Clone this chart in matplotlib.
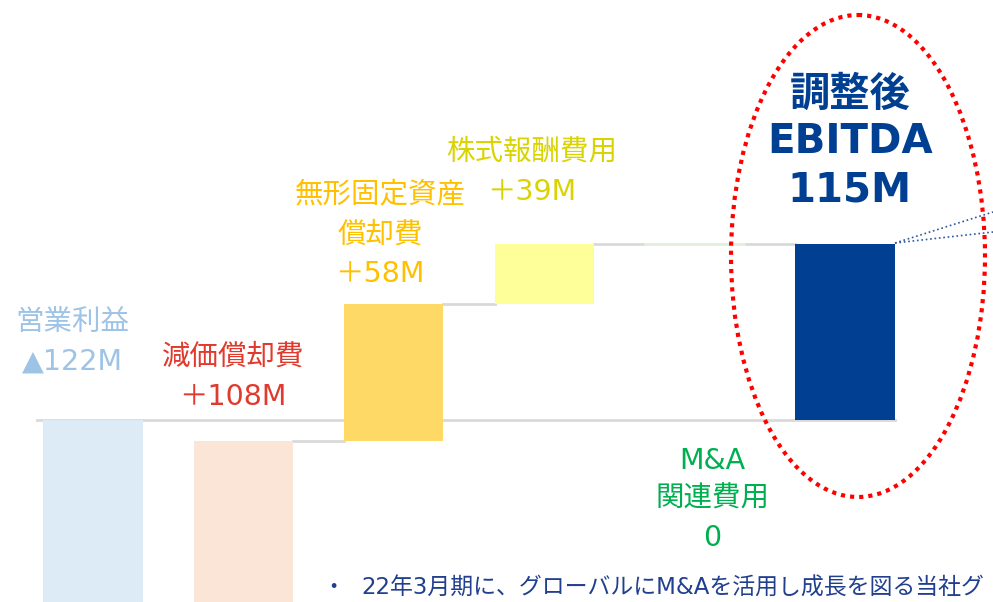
import matplotlib
matplotlib.use("Agg")
import matplotlib.pyplot as plt
from matplotlib.patches import Ellipse

# DejaVu for latin (close to Meiryo/Verdana), Noto for the kanji
plt.rcParams['font.family'] = ['DejaVu Sans', 'Noto Sans CJK JP']

# waterfall data (millions of yen)
categories = ['営業利益', '減価償却費', '無形固定資産償却費', '株式報酬費用', 'M&A関連費用', '調整後EBITDA']
bar_start = [0, -122, -14, 76, 115, 0]
bar_end = [-122, -14, 76, 115, 115, 115]
bar_colors = ['#DDEBF7', '#FBE5D6', '#FFD966', '#FFFF99', '#E2EFDA', '#003F91']

label_lines = [
    ['営業利益', '▲122M'],
    ['減価償却費', '＋108M'],
    ['無形固定資産', '償却費', '＋58M'],
    ['株式報酬費用', '＋39M'],
    ['M&A', '関連費用', '0'],
    ['調整後', 'EBITDA', '115M'],
]
label_colors = ['#9DC3E6', '#E03A2E', '#FFC000', '#D9D400', '#00B050', '#003F91']
note = '22年3月期に、グローバルにM&Aを活用し成長を図る当社グ'

W, H = 993, 602
fig = plt.figure(figsize=(W / 100, H / 100), dpi=100)

# data axes: 150.4 px per category, 1.53 px per million, zero at y=420 px
ax = fig.add_axes([0, 0, 1, 1])
px_x, px_y, x0, y0 = 150.4, 1.53, 93, 420
ax.set_xlim(-x0 / px_x, (W - x0) / px_x)
ax.set_ylim(-(H - y0) / px_y, y0 / px_y)
ax.axis('off')

n = len(categories)
xs = list(range(n))
bw = 0.66
ax.plot([-0.37, n - 1 + bw / 2], [0, 0], color='#D9D9D9', lw=2, zorder=1)
for i in xs:
    lo, hi = bar_start[i], bar_end[i]
    if lo == hi:
        ax.plot([i - bw / 2, i + bw / 2], [lo, lo], color=bar_colors[i], lw=2, zorder=2)
    else:
        ax.bar(i, hi - lo, bottom=lo, width=bw, color=bar_colors[i],
               edgecolor='none', zorder=2)
    # connector to next bar
    if 0 < i < n - 1:
        ax.plot([i + bw / 2, i + 1 - bw / 2], [bar_end[i], bar_end[i]],
                color='#D9D9D9', lw=2, zorder=1)

# overlay axes in pixel coords for annotations
ov = fig.add_axes([0, 0, 1, 1], facecolor='none')
ov.set_xlim(0, W)
ov.set_ylim(H, 0)
ov.axis('off')

label_pos = [
    (72, [323, 362]),
    (233, [357, 397]),
    (380, [194, 235, 274]),
    (532, [152, 192]),
    (712, [461, 499, 538]),
    (850, [95, 142, 190]),
]
for i, (cx, ys) in enumerate(label_pos):
    bold = i == n - 1
    for line, y in zip(label_lines[i], ys):
        ov.text(cx, y, line, ha='center', va='center',
                fontsize=29 if bold else 20.5, fontweight='bold' if bold else 'normal',
                color=label_colors[i])

ov.add_patch(Ellipse((858, 256), 254, 482, fill=False, edgecolor='#FF0000',
                     lw=3, linestyle=(0, (1, 1.2))))
ov.plot([895, 993], [243, 212], color='#2F55A4', lw=1.2, ls=':')
ov.plot([895, 993], [243, 232], color='#2F55A4', lw=1.2, ls=':')

ov.text(322, 588, '・', ha='left', va='center', fontsize=16, color='#203F8F')
ov.text(361, 588, note, ha='left', va='center', fontsize=16.5, color='#203F8F')

fig.savefig('out.png', dpi=100)
